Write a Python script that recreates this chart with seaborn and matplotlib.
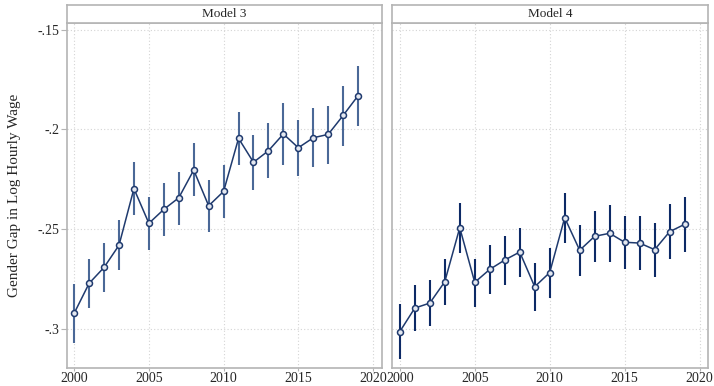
import matplotlib
matplotlib.use("Agg")
import matplotlib.pyplot as plt
import seaborn as sns
import pandas as pd
import numpy as np

years = list(range(2000, 2020))
model3_est = [-0.2922, -0.2772, -0.2692, -0.2581, -0.2297, -0.2471, -0.2401, -0.2343, -0.2204, -0.2383,
              -0.2311, -0.2045, -0.2165, -0.2107, -0.2023, -0.2092, -0.2042, -0.2025, -0.1930, -0.1831]
model3_hi = [-0.2777, -0.2650, -0.2568, -0.2456, -0.2165, -0.2341, -0.2269, -0.2212, -0.2070, -0.2254,
             -0.2177, -0.1912, -0.2027, -0.1970, -0.1868, -0.1953, -0.1894, -0.1881, -0.1783, -0.1684]
model3_lo = [-0.3069, -0.2896, -0.2817, -0.2706, -0.2431, -0.2603, -0.2533, -0.2478, -0.2336, -0.2516,
             -0.2446, -0.2179, -0.2304, -0.2245, -0.2179, -0.2234, -0.2187, -0.2174, -0.2082, -0.1982]
model4_est = [-0.3014, -0.2896, -0.2871, -0.2764, -0.2493, -0.2767, -0.2702, -0.2655, -0.2615, -0.2789,
              -0.2718, -0.2443, -0.2606, -0.2536, -0.2521, -0.2566, -0.2570, -0.2603, -0.2513, -0.2476]
model4_hi = [-0.2877, -0.2780, -0.2755, -0.2648, -0.2371, -0.2648, -0.2581, -0.2533, -0.2493, -0.2668,
             -0.2595, -0.2321, -0.2478, -0.2409, -0.2378, -0.2436, -0.2434, -0.2469, -0.2376, -0.2338]
model4_lo = [-0.3153, -0.3009, -0.2986, -0.2880, -0.2618, -0.2889, -0.2827, -0.2782, -0.2740, -0.2912,
             -0.2844, -0.2568, -0.2737, -0.2666, -0.2666, -0.2698, -0.2707, -0.2740, -0.2651, -0.2615]
panel_titles = ["Model 3", "Model 4"]
y_ticks = [-0.15, -0.2, -0.25, -0.3]
y_ticklabels = ["-.15", "-.2", "-.25", "-.3"]
x_ticks = [2000, 2005, 2010, 2015, 2020]

sns.set_theme(style="white")
plt.rcParams['font.family'] = ['Liberation Serif', 'DejaVu Serif']

line_col = "#1f3a6e"
err_cols = ["#4a6897", "#0d2a66"]
frame_col = "#b4b4b4"
grid_col = "#d4d4d4"

fig = plt.figure(figsize=(7.14, 3.86), dpi=100)
W, H = 714, 386
panels = [(66.7, 381.7), (392.3, 708.3)]
ptop, pbot = 22.7, 368.3
strip_top = 4.7

datasets = [(model3_est, model3_lo, model3_hi), (model4_est, model4_lo, model4_hi)]

for i, ((x0, x1), (est, lo, hi)) in enumerate(zip(panels, datasets)):
    ax = fig.add_axes([x0 / W, 1 - pbot / H, (x1 - x0) / W, (pbot - ptop) / H])
    df = pd.DataFrame({"year": years, "est": est, "lo": lo, "hi": hi})
    ax.vlines(df["year"], df["lo"], df["hi"], color=err_cols[i], lw=1.5, zorder=2)
    sns.lineplot(data=df, x="year", y="est", ax=ax, color=line_col, lw=1.1,
                 marker="o", markersize=4.3, markerfacecolor="#e4e8f0",
                 markeredgecolor=line_col, markeredgewidth=1.1, zorder=3)
    ax.set_xlim(1999.5, 2020.58)
    ax.set_ylim(-0.3198, -0.1465)
    ax.set_xticks(x_ticks)
    ax.set_xticklabels([str(t) for t in x_ticks], fontsize=10)
    ax.set_yticks(y_ticks)
    ax.grid(True, color=grid_col, linestyle=(0, (1, 2)), lw=0.8)
    ax.set_xlabel("")
    for s in ax.spines.values():
        s.set_color(frame_col)
        s.set_linewidth(1.2)
    ax.tick_params(axis="both", width=0.8, color=frame_col, labelsize=10,
                   bottom=True, left=True)
    ax.tick_params(axis="x", length=2.5, pad=0.5)
    ax.tick_params(axis="y", length=4, pad=1.5)
    if i == 0:
        ax.set_yticklabels(y_ticklabels, fontsize=10)
        ax.set_ylabel("Gender Gap in Log Hourly Wage", fontsize=11, labelpad=12)
    else:
        ax.set_yticklabels([])
        ax.set_ylabel("")
        ax.tick_params(axis="y", left=False)
    # strip
    sax = fig.add_axes([x0 / W, 1 - ptop / H, (x1 - x0) / W, (ptop - strip_top) / H])
    sax.set_xticks([]); sax.set_yticks([])
    sax.set_facecolor("white")
    for s in sax.spines.values():
        s.set_color(frame_col)
        s.set_linewidth(1.2)
    sax.text(0.5, 0.5, panel_titles[i], ha="center", va="center", fontsize=9.5,
             transform=sax.transAxes)

fig.savefig("out.png", dpi=100)
